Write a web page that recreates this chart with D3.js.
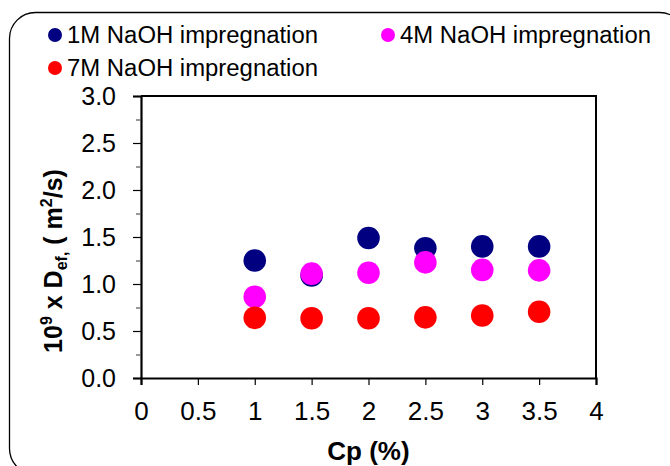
<!DOCTYPE html>
<html>
<head>
<meta charset="utf-8">
<script src="https://cdn.jsdelivr.net/npm/d3@7"></script>
<style>
	body { margin: 0; background: #fff; }
	text { font-family: Arial, "Liberation Sans", sans-serif; }
</style>
</head>
<body>
<script>
(function(){

	//chart data
	var cpValues = [1, 1.5, 2, 2.5, 3, 3.5];
	var naoh1M = [1.25, 1.09, 1.49, 1.38, 1.40, 1.40];
	var naoh4M = [0.865, 1.11, 1.12, 1.23, 1.15, 1.145];
	var naoh7M = [0.64, 0.635, 0.635, 0.645, 0.665, 0.705];
	var seriesNames = ["1M NaOH impregnation", "4M NaOH impregnation", "7M NaOH impregnation"];
	var seriesColors = ["#000080", "#ff00ff", "#ff0000"];
	var xTicks = [0, 0.5, 1, 1.5, 2, 2.5, 3, 3.5, 4];
	var yTicks = [0, 0.5, 1, 1.5, 2, 2.5, 3];

	var width = 670,
		height = 466;

	//plot frame
	var left = 141, right = 596, top = 96, bottom = 378;

	window.onload = setChart();

	function setChart(){

		var svg = d3.select("body")
			.append("svg")
			.attr("width", width)
			.attr("height", height);

		//rounded outer border, runs off the right and bottom edge
		svg.append("rect")
			.attr("x", 9.5)
			.attr("y", 12.5)
			.attr("width", 676)
			.attr("height", 462)
			.attr("rx", 26)
			.attr("fill", "none")
			.attr("stroke", "#000")
			.attr("stroke-width", 1.3);

		var x = d3.scaleLinear()
			.domain([0, 4])
			.range([left, right]);

		var y = d3.scaleLinear()
			.domain([0, 3])
			.range([bottom, top]);

		//top and right frame lines
		svg.append("path")
			.attr("d", "M" + left + "," + top + "H" + right + "V" + bottom)
			.attr("fill", "none")
			.attr("stroke", "#000")
			.attr("stroke-width", 2);

		//y axis, major ticks plus minor ticks
		var yAxis = svg.append("g")
			.attr("transform", "translate(" + left + ",0)")
			.call(d3.axisLeft(y).tickValues(yTicks).tickSize(8).tickPadding(17)
				.tickFormat(d3.format(".1f")));
		yAxis.select(".domain").attr("stroke-width", 2.2);
		yAxis.selectAll(".tick line").attr("stroke-width", 1.2);
		yAxis.selectAll("text")
			.attr("font-size", 25)
			.attr("font-family", "Arial, 'Liberation Sans', sans-serif")
			.attr("fill", "#000");

		svg.append("g")
			.attr("transform", "translate(" + left + ",0)")
			.call(d3.axisLeft(y).tickValues(d3.range(0.25, 3, 0.5)).tickSize(5).tickFormat(""))
			.call(function(g){
				g.select(".domain").remove();
				g.selectAll("line").attr("stroke", "#555").attr("stroke-width", 1.2);
			});

		//x axis
		var xAxis = svg.append("g")
			.attr("transform", "translate(0," + bottom + ")")
			.call(d3.axisBottom(x).tickValues(xTicks).tickSize(7).tickPadding(17)
				.tickFormat(d3.format("")));
		xAxis.select(".domain").attr("stroke-width", 2.2);
		xAxis.selectAll(".tick line").attr("stroke-width", 1.2);
		xAxis.selectAll("text")
			.attr("font-size", 26)
			.attr("font-family", "Arial, 'Liberation Sans', sans-serif")
			.attr("fill", "#000");

		//scatter points, drawn in series order
		var allSeries = [naoh1M, naoh4M, naoh7M];
		allSeries.forEach(function(vals, i){
			svg.append("g")
				.selectAll("circle")
				.data(vals)
				.enter()
				.append("circle")
				.attr("cx", function(d, j){ return x(cpValues[j]); })
				.attr("cy", function(d){ return y(d); })
				.attr("r", 11.3)
				.attr("fill", seriesColors[i]);
		});

		//legend
		var legendPos = [[55, 35], [388, 35], [55, 68]];
		var legend = svg.selectAll(".legend")
			.data(seriesNames)
			.enter()
			.append("g")
			.attr("class", "legend")
			.attr("transform", function(d, i){
				return "translate(" + legendPos[i][0] + "," + legendPos[i][1] + ")";
			});
		legend.append("circle")
			.attr("r", 7)
			.attr("fill", function(d, i){ return seriesColors[i]; });
		legend.append("text")
			.attr("x", 12)
			.attr("y", 8)
			.attr("font-size", 23.5)
			.attr("textLength", 251)
			.attr("lengthAdjust", "spacingAndGlyphs")
			.text(function(d){ return d; });

		//axis titles
		svg.append("text")
			.attr("x", (left + right) / 2)
			.attr("y", 460)
			.attr("text-anchor", "middle")
			.attr("font-size", 26)
			.attr("font-weight", "bold")
			.text("Cp (%)");

		var yTitle = svg.append("text")
			.attr("transform", "translate(62,261) rotate(-90)")
			.attr("text-anchor", "middle")
			.attr("font-size", 25)
			.attr("font-weight", "bold");
		yTitle.append("tspan").text("10");
		yTitle.append("tspan").attr("font-size", 16).attr("dy", -10).text("9");
		yTitle.append("tspan").attr("dy", 10).text(" x D");
		yTitle.append("tspan").attr("font-size", 16).attr("dy", 5).text("ef,");
		yTitle.append("tspan").attr("dy", -5).text(" ( m");
		yTitle.append("tspan").attr("font-size", 16).attr("dy", -10).text("2");
		yTitle.append("tspan").attr("dy", 10).text("/s)");
	};
})();
</script>
</body>
</html>
